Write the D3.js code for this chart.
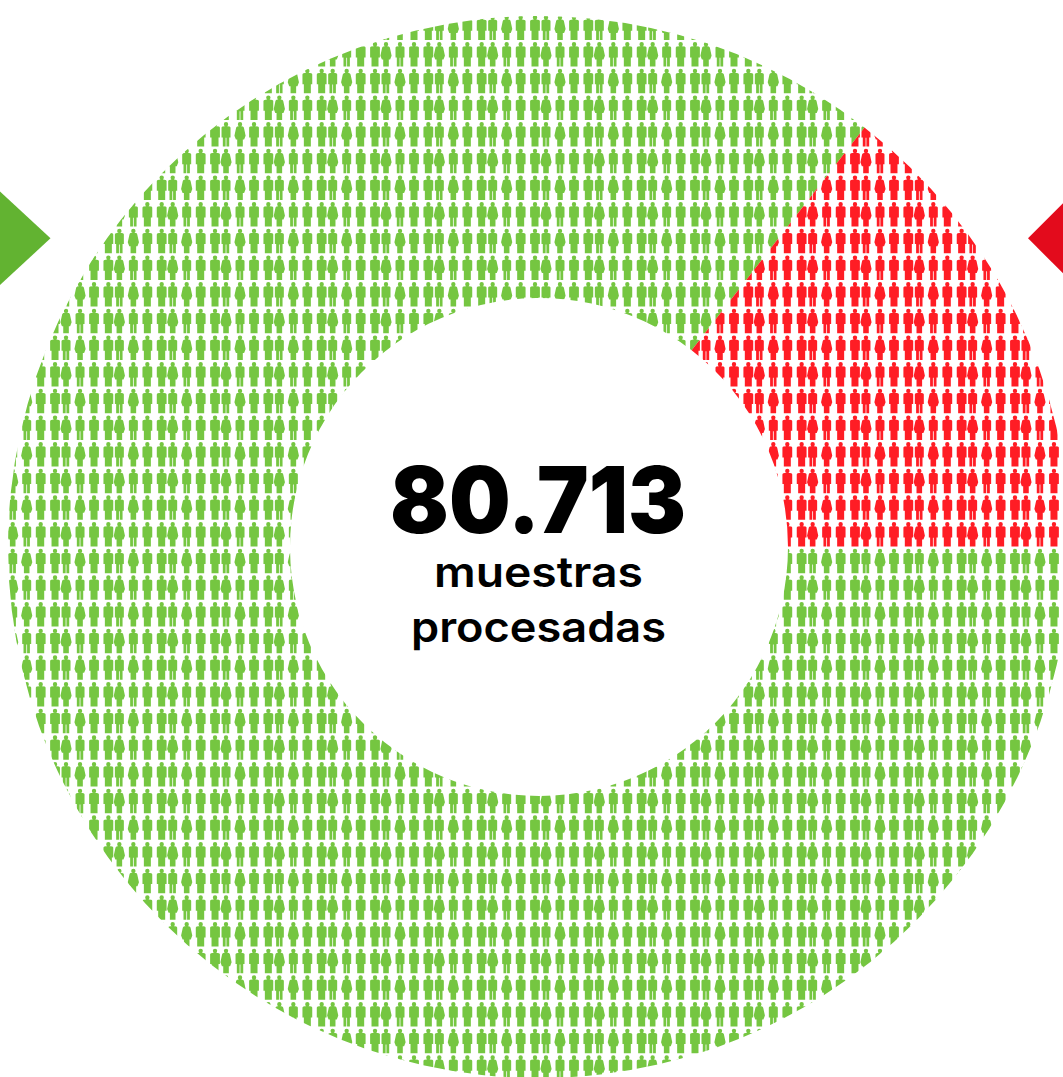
<!DOCTYPE html>
<html>
<head>
<meta charset="utf-8">
<script src="https://cdn.jsdelivr.net/npm/d3@7"></script>
<style>
  html, body { margin: 0; padding: 0; background: #fff; overflow: hidden; }
  svg { display: block; }
  text { font-family: Inter, "Open Sans", sans-serif; text-anchor: middle; fill: #000; }
</style>
</head>
<body>
<script>
// chart values
const totalLabel = "80.713";
const captionLines = ["muestras", "procesadas"];
const segmentNames = ["verde", "rojo"];
const segmentShares = [85.5, 14.5];
const segmentColors = ["#75c641", "#ff1d25"];

// the people repeat as a tile of 2 rows x 4 columns
const rowPatterns = [
  ["plain", "thin", "woman", "plain"],
  ["plain", "woman", "thin", "plain"]
];
const figureNames = ["plain", "thin", "woman"];
const figurePaths = [
  "M-2.2,2.2a2.2,2.2 0 1,1 4.4,0a2.2,2.2 0 1,1 -4.4,0ZM-3.9,4.5L-1.2,4.1L1.2,4.1L3.9,4.5Q4.9,4.7 4.9,5.7L4.9,15.4L3.5,15.4L3.5,24.5L-3.5,24.5L-3.5,15.4L-4.9,15.4L-4.9,5.7Q-4.9,4.7 -3.9,4.5Z",
  "M-2.2,2.2a2.2,2.2 0 1,1 4.4,0a2.2,2.2 0 1,1 -4.4,0ZM-3.5,4.5L-1.2,4.1L1.2,4.1L3.5,4.5Q4.5,4.7 4.5,5.7L4.5,15.4L3.2,15.4L3.2,24.5L0.4,24.5L0.4,15.8L-0.4,15.8L-0.4,24.5L-3.2,24.5L-3.2,15.4L-4.5,15.4L-4.5,5.7Q-4.5,4.7 -3.5,4.5Z",
  "M-2.2,2.2a2.2,2.2 0 1,1 4.4,0a2.2,2.2 0 1,1 -4.4,0ZM-2.8,4.4L-1.2,4.1L1.2,4.1L2.8,4.4Q3.6,4.6 3.9,5.7L5.6,13.6L4.1,17.5L2.8,17.5L2.8,24.5L-2.8,24.5L-2.8,17.5L-4.1,17.5L-5.6,13.6L-3.9,5.7Q-3.6,4.6 -2.8,4.4Z"
];

const width = 1063, height = 1077;
const cx = 539, cy = 547, outerR = 531, innerR = 249;
const tileW = 53.33, rowH = 26.665, firstHead = 15.4, firstLeft = 1.7;

const svg = d3.select("body").append("svg")
  .attr("width", width)
  .attr("height", height);

// grid scales
const tileX = d3.scaleLinear().domain([0, 1]).range([firstLeft, firstLeft + tileW]);
const colOffset = d3.scaleOrdinal().domain(d3.range(4)).range([0, 11, 25, 39]);
const rowY = d3.scaleLinear().domain([0, 1]).range([firstHead, firstHead + rowH]);
const figurePath = d3.scaleOrdinal().domain(figureNames).range(figurePaths);

const cells = [];
d3.range(0, 40).forEach(r => {
  d3.range(0, 20).forEach(t => {
    d3.range(4).forEach(c => {
      cells.push({ r, t, c, kind: rowPatterns[r % 2][c] });
    });
  });
});

// donut segments, starting at the right horizontal and going clockwise
const pie = d3.pie().sort(null)
  .startAngle(Math.PI / 2)
  .endAngle(Math.PI / 2 + 2 * Math.PI);
const arc = d3.arc().innerRadius(innerR).outerRadius(outerR);
const arcs = pie(segmentShares);

const defs = svg.append("defs");
defs.selectAll("clipPath")
  .data(arcs)
  .enter()
  .append("clipPath")
  .attr("id", (d, i) => "clip-" + segmentNames[i])
  .append("path")
  .attr("transform", `translate(${cx},${cy})`)
  .attr("d", arc);

svg.selectAll("g.segment")
  .data(arcs)
  .enter()
  .append("g")
  .attr("class", "segment")
  .attr("clip-path", (d, i) => `url(#clip-${segmentNames[i]})`)
  .attr("fill", (d, i) => segmentColors[i])
  .selectAll("path")
  .data(cells)
  .enter()
  .append("path")
  .attr("transform", d => `translate(${tileX(d.t) + colOffset(d.c)},${rowY(d.r)})`)
  .attr("d", d => figurePath(d.kind));

// side arrows
const line = d3.line();
svg.append("path").attr("fill", "#62b331")
  .attr("d", line([[0, 191.5], [50.5, 238.3], [0, 285]]) + "Z");
svg.append("path").attr("fill", "#e30b1c")
  .attr("d", line([[1063, 203.3], [1028, 238.3], [1063, 273.3]]) + "Z");

// centre labels
svg.append("text")
  .attr("x", 538).attr("y", 532.5)
  .attr("font-size", 92).attr("font-weight", 900)
  .attr("textLength", 296).attr("lengthAdjust", "spacingAndGlyphs")
  .text(totalLabel);
svg.append("text")
  .attr("x", 538.5).attr("y", 587)
  .attr("font-size", 42).attr("font-weight", 600)
  .attr("textLength", 209).attr("lengthAdjust", "spacingAndGlyphs")
  .text(captionLines[0]);
svg.append("text")
  .attr("x", 538.5).attr("y", 642)
  .attr("font-size", 42).attr("font-weight", 600)
  .attr("textLength", 255).attr("lengthAdjust", "spacingAndGlyphs")
  .text(captionLines[1]);
</script>
</body>
</html>
